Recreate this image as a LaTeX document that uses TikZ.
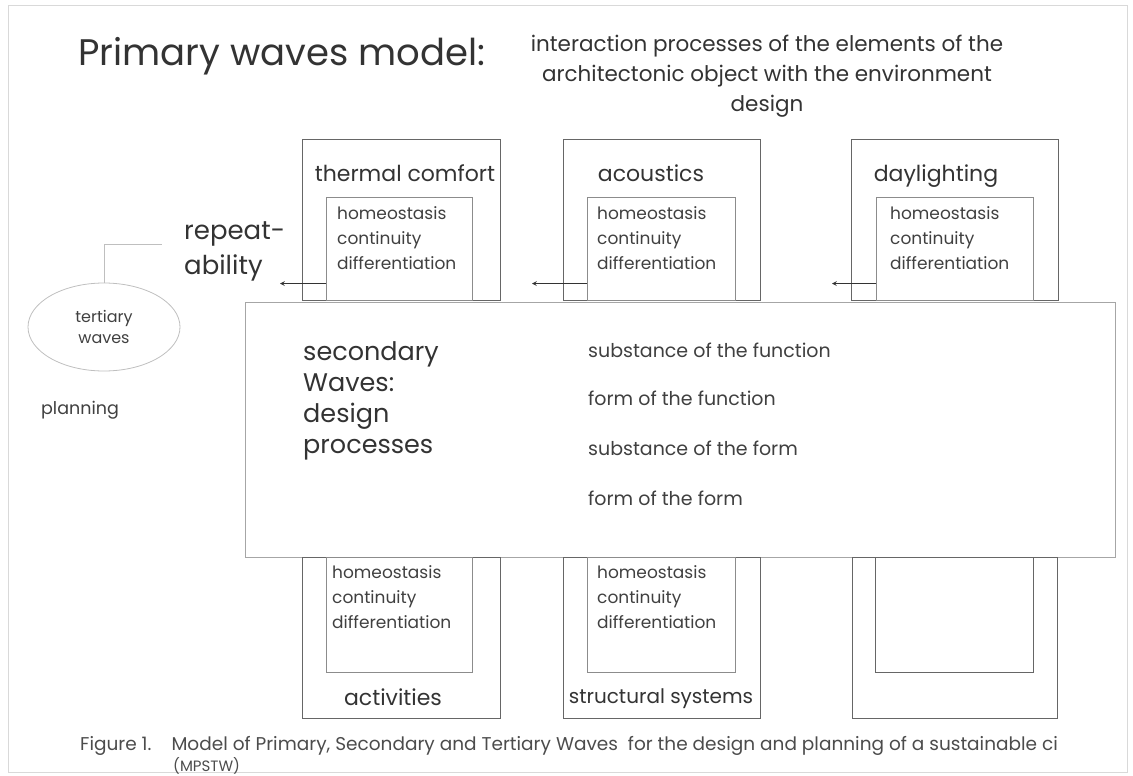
\documentclass[tikz,border=0pt]{standalone}
\usepackage{fontspec}
\setmainfont{Poppins}
\usetikzlibrary{shapes.geometric, arrows, positioning}
\tikzstyle{wavebox} = [rectangle, draw=black!60, line width=0.9pt, anchor=north west, inner sep=0pt]
\tikzstyle{innerbox} = [rectangle, draw=black!45, line width=0.6pt, anchor=north west, inner sep=0pt]
\tikzstyle{boxtitle} = [font=\fontsize{22}{26}\selectfont, text=black!80, anchor=base, inner sep=0pt]
\tikzstyle{innertext} = [font=\fontsize{17}{25}\selectfont, text=black!75, align=left, anchor=north west, inner sep=0pt]
\tikzstyle{itemtext} = [font=\fontsize{19}{22}\selectfont, text=black!75, anchor=west, inner sep=0pt]
\tikzstyle{arrow} = [black!80, line width=1.1pt, ->, >=stealth]

\begin{document}
\begin{tikzpicture}[x=1pt, y=-1pt]
\useasboundingbox (0,0) rectangle (1133,776);
\draw[black!15, line width=1pt] (8,6) rectangle (1127,772);

% title
\node[anchor=base west, inner sep=0pt, font=\fontsize{37}{40}\selectfont, text=black!80] (title) at (78,66) {Primary waves model:};
\node[align=center, inner sep=0pt, font=\fontsize{21.5}{30}\selectfont, text=black!80] (subtitle) at (767,76) {interaction processes of the elements of the\\architectonic object with the environment\\design};

% primary waves, top row
\node[wavebox, minimum width=198pt, minimum height=161pt] (thermal) at (302,139) {};
\node[innerbox, minimum width=146pt, minimum height=103pt] (thermalin) at (326,197) {};
\node[boxtitle] at (405,181) {thermal comfort};
\node[innertext] (thermaltx) at (337,206) {homeostasis\\continuity\\differentiation};

\node[wavebox, minimum width=197pt, minimum height=161pt] (acoustics) at (563,139) {};
\node[innerbox, minimum width=148pt, minimum height=103pt] (acousticsin) at (587,197) {};
\node[boxtitle] at (651,181) {acoustics};
\node[innertext] (acousticstx) at (597,206) {homeostasis\\continuity\\differentiation};

\node[wavebox, minimum width=207pt, minimum height=161pt] (daylight) at (851,139) {};
\node[innerbox, minimum width=157pt, minimum height=103pt] (daylightin) at (876,197) {};
\node[boxtitle] at (936,181) {daylighting};
\node[innertext] (daylighttx) at (890,206) {homeostasis\\continuity\\differentiation};

% secondary waves
\node[rectangle, draw=black!35, line width=0.7pt, fill=white, anchor=north west, minimum width=870pt, minimum height=255pt] (secondary) at (245,302) {};
\node[align=left, anchor=north west, inner sep=0pt, font=\fontsize{25.5}{31}\selectfont, text=black!80] (design) at (303,341) {secondary\\Waves:\\design\\processes};
\node[itemtext] (sf) at (588,350) {substance of the function};
\node[itemtext, below=48pt of sf.west, anchor=west] (ff) {form of the function};
\node[itemtext, below=50pt of ff.west, anchor=west] (sform) {substance of the form};
\node[itemtext, below=50pt of sform.west, anchor=west] (fform) {form of the form};

% primary waves, bottom row
\node[wavebox, minimum width=198pt, minimum height=161pt] (activities) at (302,557) {};
\node[innerbox, minimum width=146pt, minimum height=115pt] (activitiesin) at (326,557) {};
\node[innertext] (activitiestx) at (332,565) {homeostasis\\continuity\\differentiation};
\node[boxtitle] at (393,705) {activities};

\node[wavebox, minimum width=197pt, minimum height=161pt] (structural) at (563,557) {};
\node[innerbox, minimum width=148pt, minimum height=115pt] (structuralin) at (587,557) {};
\node[innertext] (structuraltx) at (597,565) {homeostasis\\continuity\\differentiation};
\node[boxtitle, font=\fontsize{20}{24}\selectfont] at (661,703) {structural systems};

\node[wavebox, line width=1.3pt, minimum width=205pt, minimum height=161pt] (empty) at (852,557) {};
\node[wavebox, line width=1.3pt, minimum width=158pt, minimum height=115pt] (emptyin) at (875,557) {};

% tertiary waves
\node[align=left, anchor=north west, inner sep=0pt, font=\fontsize{26}{35}\selectfont, text=black!80] (repeat) at (184,221) {repeat-\\ability};
\node[ellipse, draw=black!25, line width=0.8pt, minimum width=152pt, minimum height=88pt, align=center, font=\fontsize{16}{21}\selectfont, text=black!75] (tertiary) at (104,327) {tertiary\\waves};
\node[font=\fontsize{17.5}{20}\selectfont, text=black!75, inner sep=0pt] (planning) at (80,410) {planning};
\coordinate (link) at (162,244);
\draw[black!25, line width=0.8pt] (tertiary.north) |- (link);

\draw[arrow] ([yshift=17pt]thermalin.south west) -- ++(-46,0);
\draw[arrow] ([yshift=17pt]acousticsin.south west) -- ++(-55,0);
\draw[arrow] ([yshift=17pt]daylightin.south west) -- ++(-44,0);

% caption
\node[anchor=base west, inner sep=0pt, font=\fontsize{18.5}{20}\selectfont, text=black!70] (caption) at (80,750) {Figure 1.\hspace{20pt}Model of Primary, Secondary and Tertiary Waves\ \ for the design and planning of a sustainable ci};
\node[anchor=base west, inner sep=0pt, font=\fontsize{15}{18}\selectfont, text=black!70] (mpstw) at (173,771) {(MPSTW)};

\end{tikzpicture}
\end{document}
